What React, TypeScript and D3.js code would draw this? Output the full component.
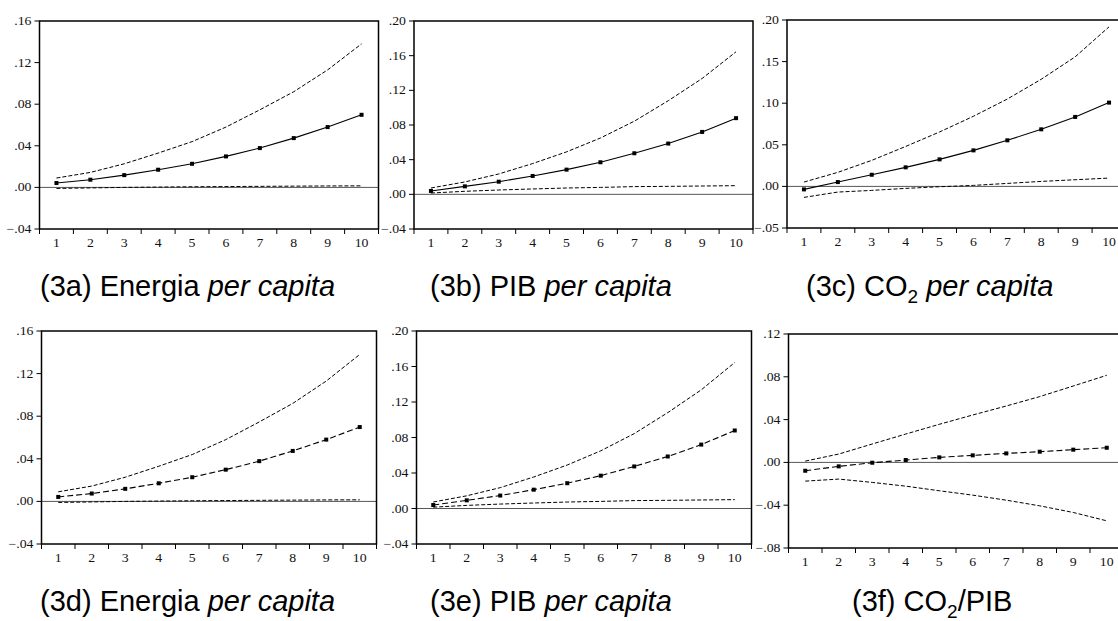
import React from 'react';
import * as d3 from 'd3';

// horizons on the x axis
const horizons = ['1', '2', '3', '4', '5', '6', '7', '8', '9', '10'];

// Energia per capita (3a / 3d)
const energiaResp = [0.0042, 0.0074, 0.0118, 0.017, 0.0227, 0.0298, 0.0378, 0.0474, 0.058, 0.0698];
const energiaUpper = [0.009, 0.0144, 0.0227, 0.033, 0.044, 0.058, 0.0746, 0.092, 0.113, 0.138];
const energiaLower = [-0.001, -0.0005, 0, 0.0003, 0.0006, 0.0008, 0.001, 0.0012, 0.0014, 0.0015];

// PIB per capita (3b / 3e)
const pibResp = [0.0039, 0.0092, 0.0146, 0.0212, 0.0285, 0.037, 0.0474, 0.0586, 0.072, 0.0879];
const pibUpper = [0.0073, 0.0143, 0.0235, 0.0355, 0.049, 0.065, 0.0844, 0.108, 0.1337, 0.1645];
const pibLower = [0.0015, 0.0035, 0.005, 0.0062, 0.0073, 0.008, 0.0089, 0.0092, 0.0096, 0.01];

// CO2 per capita (3c)
const co2Resp = [-0.0036, 0.0052, 0.014, 0.0229, 0.0325, 0.0433, 0.0554, 0.0686, 0.0835, 0.1007];
const co2Upper = [0.0052, 0.0169, 0.0313, 0.048, 0.0654, 0.0843, 0.105, 0.1288, 0.1557, 0.1918];
const co2Lower = [-0.0132, -0.0068, -0.0048, -0.0024, -0.0004, 0.0012, 0.0036, 0.006, 0.008, 0.01];

// CO2/PIB (3f)
const co2pibResp = [-0.0078, -0.0037, -0.0003, 0.0022, 0.0047, 0.0066, 0.0084, 0.01, 0.0119, 0.0137];
const co2pibUpper = [0.0012, 0.0078, 0.0172, 0.0265, 0.0356, 0.0443, 0.0527, 0.0615, 0.0714, 0.0814];
const co2pibLower = [-0.0175, -0.0156, -0.0187, -0.0222, -0.0265, -0.0306, -0.0353, -0.0406, -0.0468, -0.0546];

// y tick values
const ticks04a = [-0.04, 0, 0.04, 0.08, 0.12, 0.16];
const ticks04b = [-0.04, 0, 0.04, 0.08, 0.12, 0.16, 0.2];
const ticks05 = [-0.05, 0, 0.05, 0.1, 0.15, 0.2];
const ticks04c = [-0.08, -0.04, 0, 0.04, 0.08, 0.12];

type Panel = {
  id: string;
  left: number;
  top: number;
  width: number;
  height: number;
  ticks: number[];
  resp: number[];
  upper: number[];
  lower: number[];
  respDashed: boolean;
  label: string;
  main: string;
  sub?: string;
  after?: string;
  italic?: string;
  capX: number;
  capY: number;
};

const panels: Panel[] = [
  { id: 'a', left: 39.5, top: 21, width: 339, height: 208, ticks: ticks04a, resp: energiaResp, upper: energiaUpper, lower: energiaLower, respDashed: false, label: '(3a) ', main: 'Energia ', italic: 'per capita', capX: 40, capY: 296 },
  { id: 'b', left: 414, top: 21, width: 339, height: 208, ticks: ticks04b, resp: pibResp, upper: pibUpper, lower: pibLower, respDashed: false, label: '(3b) ', main: 'PIB ', italic: 'per capita', capX: 430, capY: 296 },
  { id: 'c', left: 787, top: 20, width: 339, height: 208, ticks: ticks05, resp: co2Resp, upper: co2Upper, lower: co2Lower, respDashed: false, label: '(3c) ', main: 'CO', sub: '2', after: ' ', italic: 'per capita', capX: 806, capY: 296 },
  { id: 'd', left: 41.5, top: 331, width: 335, height: 213, ticks: ticks04a, resp: energiaResp, upper: energiaUpper, lower: energiaLower, respDashed: true, label: '(3d) ', main: 'Energia ', italic: 'per capita', capX: 40, capY: 611 },
  { id: 'e', left: 416.5, top: 331, width: 335, height: 213, ticks: ticks04b, resp: pibResp, upper: pibUpper, lower: pibLower, respDashed: true, label: '(3e) ', main: 'PIB ', italic: 'per capita', capX: 430, capY: 611 },
  { id: 'f', left: 788.5, top: 334, width: 335, height: 214, ticks: ticks04c, resp: co2pibResp, upper: co2pibUpper, lower: co2pibLower, respDashed: true, label: '(3f) ', main: 'CO', sub: '2', after: '/PIB', capX: 852, capY: 611 },
];

const fmt = (v: number) => d3.format('.2f')(v).replace('0.', '.');

function ImpulsePanel({ p }: { p: Panel }) {
  const x = d3.scaleBand<string>().domain(horizons).range([0, p.width]).padding(0);
  const ext = d3.extent(p.ticks) as [number, number];
  const y = d3.scaleLinear().domain(ext).range([p.height, 0]);
  const cx = (i: number) => (x(horizons[i]) as number) + x.bandwidth() / 2;
  const line = d3.line<number>().x((_, i) => cx(i)).y(d => y(d));
  const bounds = [...horizons.map(h => x(h) as number), p.width];
  const serif = 'Liberation Serif, Times New Roman, serif';

  return (
    <g transform={`translate(${p.left},${p.top})`}>
      <line x1={0} x2={p.width} y1={y(0)} y2={y(0)} stroke="#555" strokeWidth={1} />
      <path d={line(p.upper) ?? ''} fill="none" stroke="#000" strokeWidth={1} strokeDasharray="4 2" />
      <path d={line(p.lower) ?? ''} fill="none" stroke="#000" strokeWidth={1} strokeDasharray="4 2" />
      <path d={line(p.resp) ?? ''} fill="none" stroke="#000" strokeWidth={1.1} strokeDasharray={p.respDashed ? '6 3' : undefined} />
      {p.resp.map((v, i) => (
        <rect key={i} x={cx(i) - 2} y={y(v) - 2} width={4} height={4} fill="#000" />
      ))}
      <rect x={0} y={0} width={p.width} height={p.height} fill="none" stroke="#000" strokeWidth={1.5} />
      {p.ticks.map(t => (
        <g key={t} transform={`translate(0,${y(t)})`}>
          <line x1={-5} x2={0} stroke="#000" strokeWidth={1} />
          <text transform="translate(-8,4) scale(1.15,1)" textAnchor="end" fontFamily={serif} fontSize={12} fill="#111">{fmt(t)}</text>
        </g>
      ))}
      {bounds.map((b, i) => (
        <line key={i} x1={b} x2={b} y1={p.height} y2={p.height + 5} stroke="#000" strokeWidth={1} />
      ))}
      {horizons.map((h, i) => (
        <text key={h} transform={`translate(${cx(i)},${p.height + 18}) scale(1.15,1)`} textAnchor="middle" fontFamily={serif} fontSize={12} fill="#111">{h}</text>
      ))}
    </g>
  );
}

function Caption({ p }: { p: Panel }) {
  return (
    <text x={p.capX} y={p.capY} fontFamily="Liberation Sans, Arial, sans-serif" fontSize={29} fill="#000">
      <tspan>{p.label}{p.main}</tspan>
      {p.sub && <tspan fontSize={19} dy={7}>{p.sub}</tspan>}
      {p.sub && <tspan dy={-7}>{p.after}</tspan>}
      {p.italic && <tspan fontStyle="italic">{p.italic}</tspan>}
    </text>
  );
}

export default function App() {
  return (
    <svg width={1118} height={621} style={{ position: 'absolute', left: 0, top: 0, background: '#fff' }}>
      <rect width={1118} height={621} fill="#fff" />
      {panels.map(p => (
        <g key={p.id}>
          <ImpulsePanel p={p} />
          <Caption p={p} />
        </g>
      ))}
    </svg>
  );
}
